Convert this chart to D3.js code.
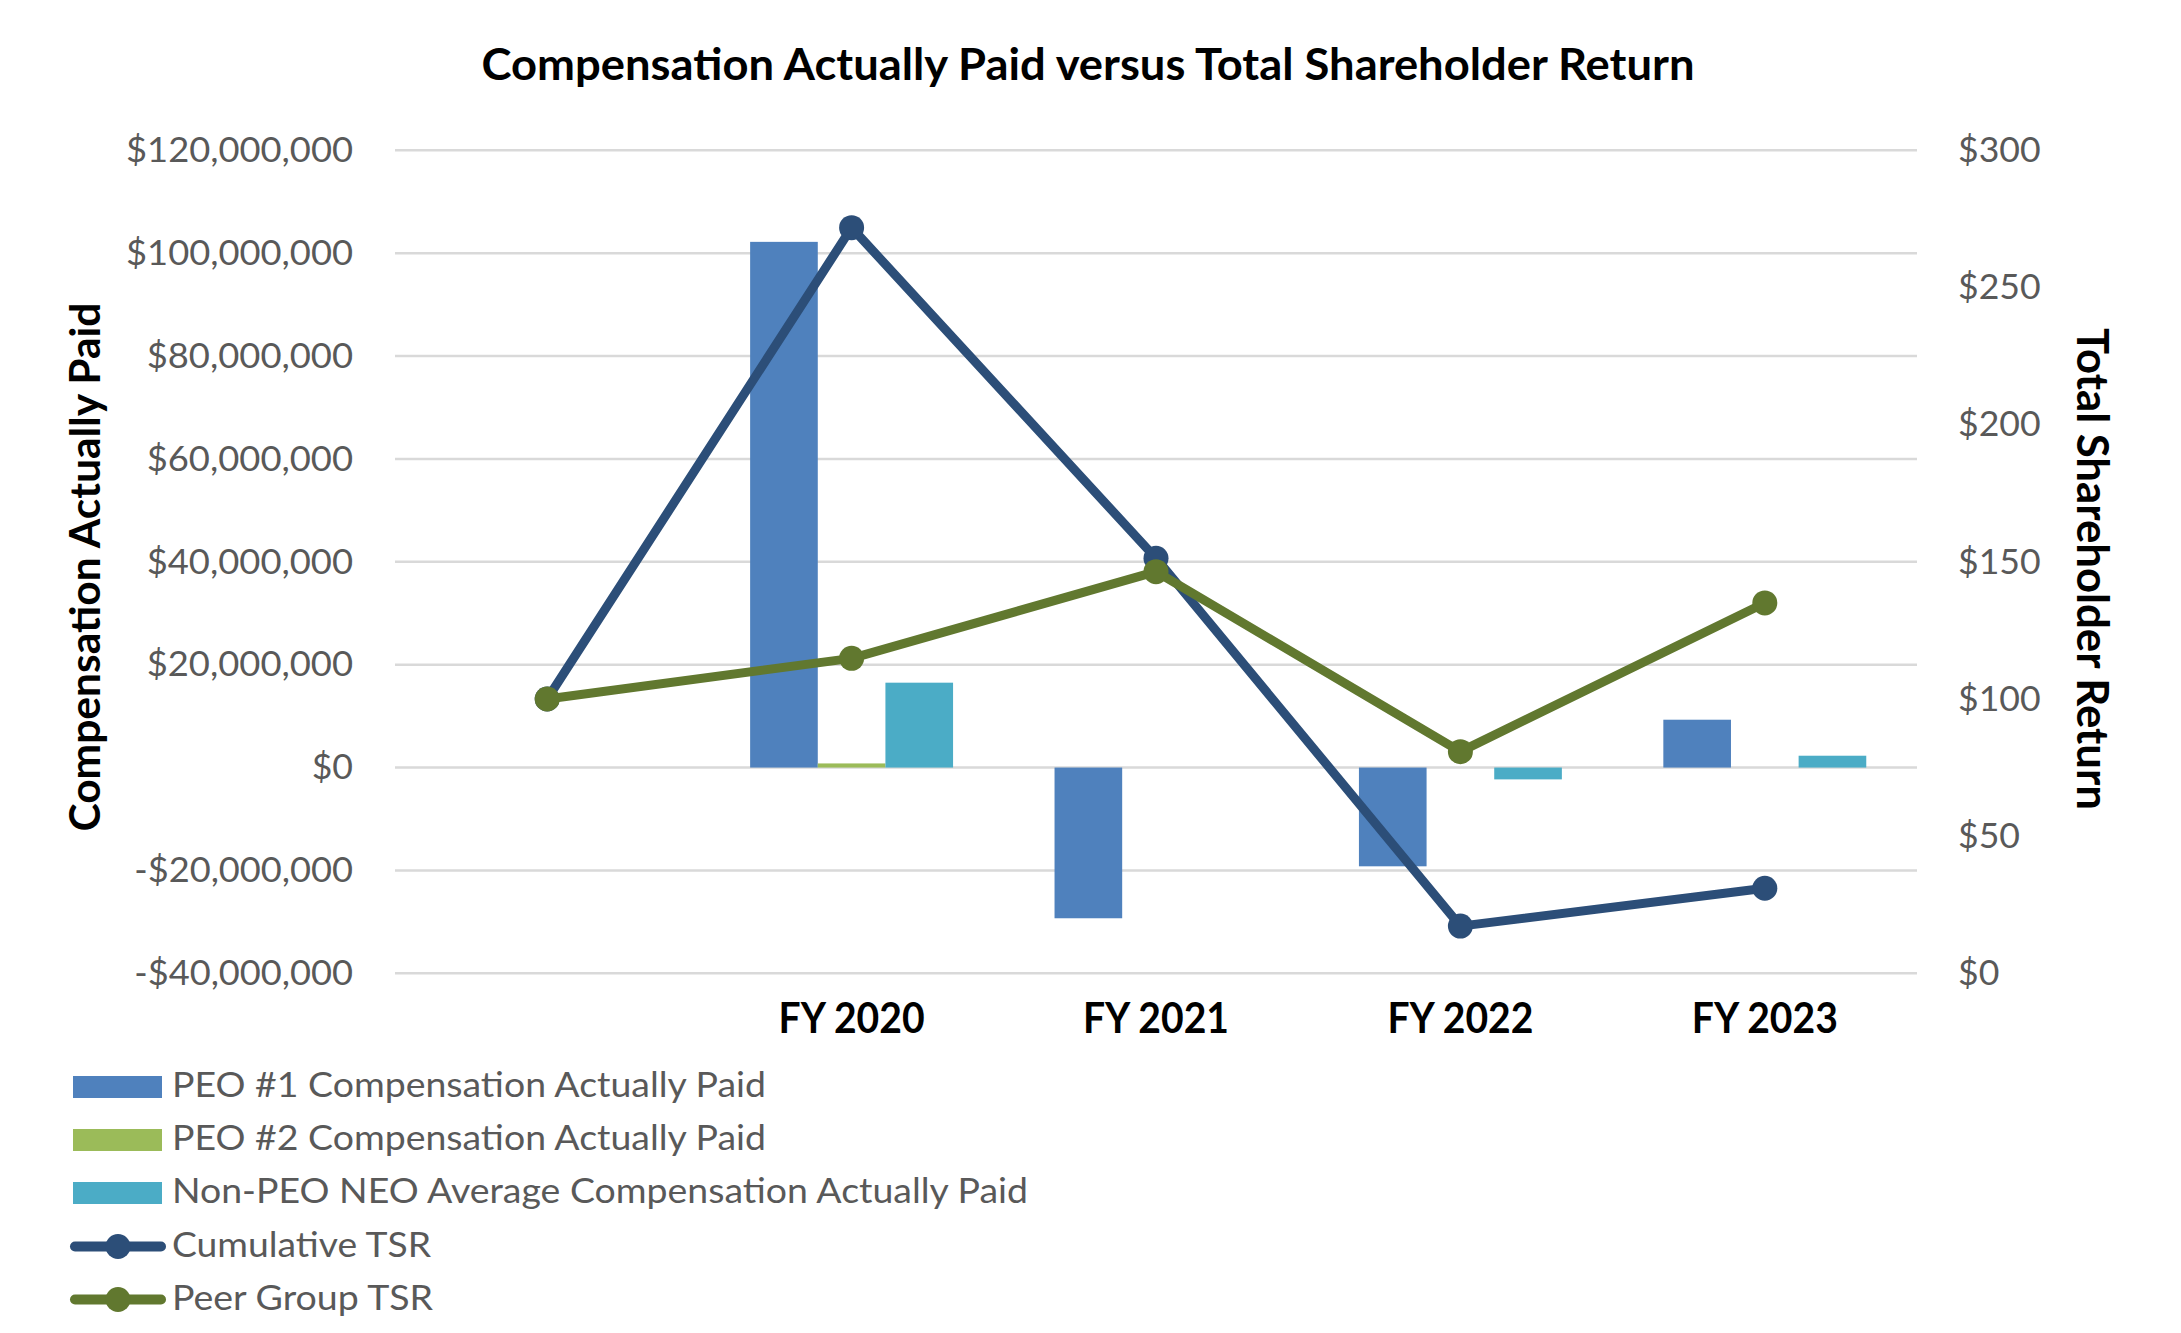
<!DOCTYPE html>
<html><head><meta charset="utf-8">
<script src="https://cdn.jsdelivr.net/npm/d3@7"></script>
<style>html,body{margin:0;padding:0;background:#fff;} svg{display:block;}</style>
</head><body>
<svg id="chart" width="2181" height="1333"></svg>
<script>
// ---------------- DATA ----------------
const categories = ["", "FY 2020", "FY 2021", "FY 2022", "FY 2023"];
const peo1Comp   = [null, 102200000, -29300000, -19200000, 9300000];
const peo2Comp   = [null, 800000, null, null, null];
const nonPeoComp = [null, 16500000, null, -2300000, 2300000];
const cumulativeTSR = [100, 271.8, 151.3, 17.2, 31.0];
const peerGroupTSR  = [100, 114.8, 146.4, 80.8, 135.0];
const leftTicks  = [-40000000, -20000000, 0, 20000000, 40000000, 60000000, 80000000, 100000000, 120000000];
const rightTicks = [0, 50, 100, 150, 200, 250, 300];
const barSeriesNames = ["PEO #1 Compensation Actually Paid", "PEO #2 Compensation Actually Paid", "Non-PEO NEO Average Compensation Actually Paid"];
const lineSeriesNames = ["Cumulative TSR", "Peer Group TSR"];
const titleText = "Compensation Actually Paid versus Total Shareholder Return";
const leftAxisTitle = "Compensation Actually Paid";
const rightAxisTitle = "Total Shareholder Return";

// ---------------- STYLE / LAYOUT ----------------
const W = 2181, H = 1333;
const plot = {left: 395, right: 1917, top: 150.3, bottom: 973.3};
const barColors = ["#4F81BD", "#9BBB59", "#4BACC6"];
const lineColors = ["#2C4E78", "#61782F"];
const FONT = "Lato, 'Liberation Sans', Arial, sans-serif";
const GRAY = "#595959";

const svg = d3.select("#chart");
svg.append("rect").attr("width", W).attr("height", H).attr("fill", "#fff");

const yL = d3.scaleLinear().domain([-40000000, 120000000]).range([plot.bottom, plot.top]);
const yR = d3.scaleLinear().domain([0, 300]).range([plot.bottom, plot.top]);
const x = d3.scaleBand().domain(categories).range([plot.left, plot.right]).padding(0);
const x1 = d3.scaleBand().domain(barSeriesNames).range([0, x.bandwidth()]).paddingInner(0).paddingOuter(0.75);

// Calibri-like width estimate for numeric labels
function numWidth(s, em) {
  let w = 0;
  for (const ch of s) {
    if (ch === ",") w += 0.25; else if (ch === "-") w += 0.306; else w += 0.507;
  }
  return w * em;
}

// Gridlines
svg.append("g").selectAll("line").data(leftTicks).join("line")
  .attr("x1", plot.left).attr("x2", plot.right)
  .attr("y1", d => yL(d)).attr("y2", d => yL(d))
  .attr("stroke", "#D9D9D9").attr("stroke-width", 2.5);

// Left axis
const fmt = d3.format(",");
const fmtL = d => (d < 0 ? "-$" : "$") + fmt(Math.abs(d));
const gL = svg.append("g").attr("transform", `translate(${plot.left},0)`)
  .call(d3.axisLeft(yL).tickValues(leftTicks).tickSize(0).tickPadding(42).tickFormat(fmtL));
gL.select(".domain").remove();
gL.selectAll("text").attr("font-family", FONT).attr("font-size", 35).attr("fill", GRAY)
  .attr("dy", "0.32em")
  .attr("textLength", function(d){ return numWidth(fmtL(d), 40.75); })
  .attr("lengthAdjust", "spacingAndGlyphs");

// Right axis
const fmtR = d => "$" + d;
const gR = svg.append("g").attr("transform", `translate(${plot.right},0)`)
  .call(d3.axisRight(yR).tickValues(rightTicks).tickSize(0).tickPadding(41).tickFormat(fmtR));
gR.select(".domain").remove();
gR.selectAll("text").attr("font-family", FONT).attr("font-size", 35).attr("fill", GRAY)
  .attr("dy", "0.32em")
  .attr("textLength", function(d){ return numWidth(fmtR(d), 40.75); })
  .attr("lengthAdjust", "spacingAndGlyphs");

// X axis labels
const gX = svg.append("g").attr("transform", `translate(0,${plot.bottom})`)
  .call(d3.axisBottom(x).tickSize(0).tickPadding(60));
gX.select(".domain").remove();
gX.selectAll("text").attr("font-family", FONT).attr("font-size", 42).attr("font-weight", "bold")
  .attr("fill", "#000").attr("dy", null).attr("y", 60)
  .attr("textLength", d => d ? 146 : null)
  .attr("lengthAdjust", "spacingAndGlyphs");

// Bars
const barData = [peo1Comp, peo2Comp, nonPeoComp];
barData.forEach((vals, si) => {
  svg.append("g").selectAll("rect")
    .data(categories.map((c, i) => ({c, v: vals[i]})).filter(d => d.v !== null))
    .join("rect")
    .attr("x", d => x(d.c) + x1(barSeriesNames[si]))
    .attr("width", x1.bandwidth())
    .attr("y", d => Math.min(yL(0), yL(d.v)))
    .attr("height", d => Math.abs(yL(d.v) - yL(0)))
    .attr("fill", barColors[si]);
});

// Lines
const lineData = [cumulativeTSR, peerGroupTSR];
const cx = c => x(c) + x.bandwidth() / 2;
lineData.forEach((vals, si) => {
  const pts = categories.map((c, i) => ({c, v: vals[i]}));
  const g = svg.append("g");
  g.append("path").datum(pts)
    .attr("d", d3.line().x(d => cx(d.c)).y(d => yR(d.v)))
    .attr("fill", "none").attr("stroke", lineColors[si]).attr("stroke-width", 9)
    .attr("stroke-linejoin", "round").attr("stroke-linecap", "round");
  g.selectAll("circle").data(pts).join("circle")
    .attr("cx", d => cx(d.c)).attr("cy", d => yR(d.v)).attr("r", 12.5)
    .attr("fill", lineColors[si]);
});

// Title
svg.append("text").attr("x", 1088).attr("y", 80).attr("text-anchor", "middle")
  .attr("font-family", FONT).attr("font-size", 44).attr("font-weight", "bold").attr("fill", "#000")
  .attr("textLength", 1213).attr("lengthAdjust", "spacingAndGlyphs")
  .text(titleText);

// Axis titles
svg.append("text").attr("transform", "translate(100,567) rotate(-90)").attr("text-anchor", "middle")
  .attr("font-family", FONT).attr("font-size", 42).attr("font-weight", "bold").attr("fill", "#000")
  .attr("textLength", 529).attr("lengthAdjust", "spacingAndGlyphs")
  .text(leftAxisTitle);
svg.append("text").attr("transform", "translate(2077,569) rotate(90)").attr("text-anchor", "middle")
  .attr("font-family", FONT).attr("font-size", 44).attr("font-weight", "bold").attr("fill", "#000")
  .attr("textLength", 482).attr("lengthAdjust", "spacingAndGlyphs")
  .text(rightAxisTitle);

// Legend
const legendRows = [1087, 1140, 1193, 1246.5, 1299.5];
const legendWidths = [594, 594, 856, 259, 261];
const legendItems = barSeriesNames.map((n, i) => ({name: n, type: "bar", color: barColors[i]}))
  .concat(lineSeriesNames.map((n, i) => ({name: n, type: "line", color: lineColors[i]})));
const lg = svg.append("g");
legendItems.forEach((it, i) => {
  const cy = legendRows[i];
  if (it.type === "bar") {
    lg.append("rect").attr("x", 73).attr("y", cy - 11).attr("width", 89).attr("height", 22).attr("fill", it.color);
  } else {
    lg.append("line").attr("x1", 75).attr("x2", 161).attr("y1", cy).attr("y2", cy)
      .attr("stroke", it.color).attr("stroke-width", 10).attr("stroke-linecap", "round");
    lg.append("circle").attr("cx", 118).attr("cy", cy).attr("r", 12.5).attr("fill", it.color);
  }
  lg.append("text").attr("x", 172).attr("y", cy + 10)
    .attr("font-family", FONT).attr("font-size", 35).attr("fill", GRAY)
    .attr("textLength", legendWidths[i]).attr("lengthAdjust", "spacingAndGlyphs")
    .text(it.name);
});
</script>
</body></html>
